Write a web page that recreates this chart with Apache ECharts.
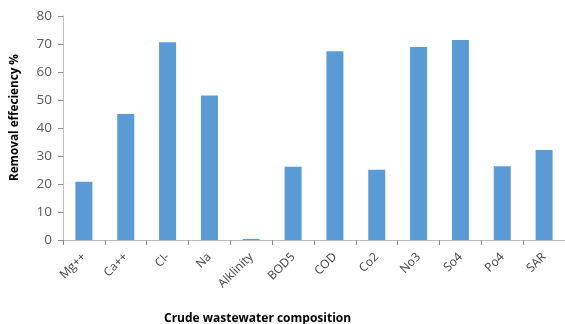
<!DOCTYPE html>
<html><head><meta charset="utf-8">
<script src="https://cdn.jsdelivr.net/npm/echarts@6/dist/echarts.min.js"></script>
<style>html,body{margin:0;padding:0;background:#fff}#c{width:565px;height:324px}</style>
</head><body><div id="c"></div>
<script>
const categories = ["Mg++","Ca++","Cl-","Na","Alklinity","BOD5","COD","Co2","No3","So4","Po4","SAR"];
const removal = [20.8, 45.0, 70.6, 51.6, 0.4, 26.2, 67.4, 25.1, 68.9, 71.4, 26.3, 32.1];
const yTicks = {min: 0, max: 80, interval: 10};
const yTitle = "Removal effeciency %";
const xTitle = "Crude wastewater composition";

const chart = echarts.init(document.getElementById('c'), null, {renderer: 'canvas'});
chart.setOption({
  animation: false,
  backgroundColor: '#fff',
  grid: {left: 63, top: 16, width: 503, height: 224, containLabel: false},
  xAxis: {
    type: 'category', data: categories,
    axisLine: {lineStyle: {color: '#bfbfbf', width: 1}},
    axisTick: {show: true, alignWithLabel: false, length: 5, lineStyle: {color: '#8c8c8c'}},
    axisLabel: {rotate: 45, margin: 15, color: '#404040', fontSize: 12, fontFamily: 'Open Sans', interval: 0}
  },
  yAxis: {
    type: 'value', min: yTicks.min, max: yTicks.max, interval: yTicks.interval,
    splitLine: {show: false},
    axisLine: {show: true, lineStyle: {color: '#bfbfbf'}},
    axisTick: {show: true, length: 5, lineStyle: {color: '#8c8c8c'}},
    axisLabel: {margin: 11, color: '#595959', fontSize: 13.5, fontFamily: 'Open Sans'}
  },
  graphic: [
    {type: 'text', left: 164, top: 313, style: {text: xTitle, font: 'bold 12px "Open Sans"', fill: '#000'}},
    {type: 'text', x: 9, y: 181, rotation: Math.PI/2, style: {text: yTitle, font: 'bold 11.7px "Open Sans"', fill: '#000'}}
  ],
  series: [{
    type: 'bar', data: removal, barWidth: 17,
    itemStyle: {color: '#5b9bd5'}
  }]
});
</script></body></html>
